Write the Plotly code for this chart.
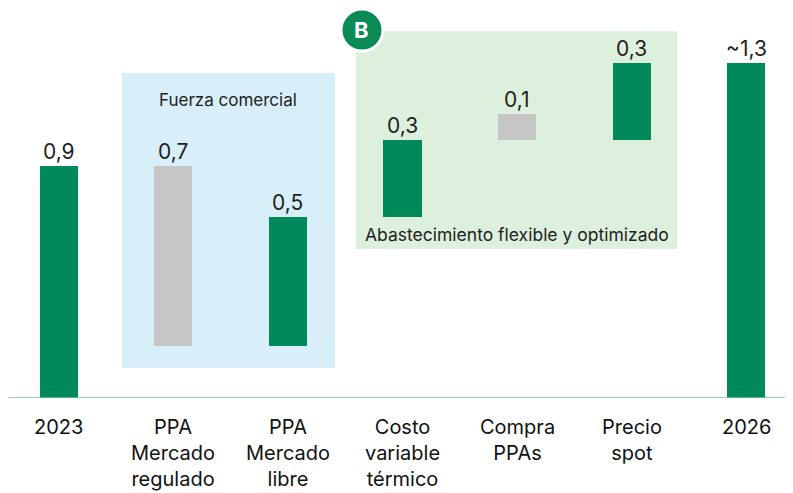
import plotly.graph_objects as go

categories = ["2023", "PPA<br>Mercado<br>regulado", "PPA<br>Mercado<br>libre",
              "Costo<br>variable<br>térmico", "Compra<br>PPAs", "Precio<br>spot", "2026"]
values = [0.9, 0.7, 0.5, 0.3, 0.1, 0.3, 1.3]
bases = [0.0, 0.2, 0.2, 0.7, 1.0, 1.0, 0.0]
value_labels = ["0,9", "0,7", "0,5", "0,3", "0,1", "0,3", "~1,3"]
bar_colors = ["#00895A", "#C6C6C6", "#00895A", "#00895A", "#C6C6C6", "#00895A", "#00895A"]
group_labels = ["Fuerza comercial", "Abastecimiento flexible y optimizado"]

FONT = "Inter"
idx = list(range(len(categories)))

fig = go.Figure()
fig.add_trace(go.Bar(
    x=idx, y=values, base=bases, width=0.332,
    marker=dict(color=bar_colors, line=dict(width=0)),
    hoverinfo="skip", showlegend=False,
))

annotations = []
for i, (v, b, lab) in enumerate(zip(values, bases, value_labels)):
    annotations.append(dict(x=i, y=b + v, xref="x", yref="y", text=lab, showarrow=False,
                            yanchor="bottom", yshift=0,
                            font=dict(family=FONT, size=21, color="#222222")))
for i, cat in enumerate(categories):
    annotations.append(dict(x=i, y=0, xref="x", yref="y", text=cat, showarrow=False,
                            yanchor="top", yshift=-15, align="center",
                            font=dict(family=FONT, size=20, color="#111111")))

# group boxes
shapes = [
    dict(type="rect", xref="x", yref="y", x0=0.55, x1=2.41, y0=0.116, y1=1.26,
         fillcolor="#D8EFF9", line=dict(width=0), layer="below"),
    dict(type="rect", xref="x", yref="y", x0=2.594, x1=5.397, y0=0.578, y1=1.422,
         fillcolor="#DDF0DE", line=dict(width=0), layer="below"),
    dict(type="line", xref="paper", yref="y", x0=0, x1=1, y0=0, y1=0,
         line=dict(color="#6CC3A0", width=1.5)),
    dict(type="circle", xref="x", yref="y", xsizemode="pixel", ysizemode="pixel",
         xanchor=2.646, yanchor=1.426, x0=-21, x1=21, y0=-21, y1=21,
         fillcolor="#0A8A55", line=dict(color="white", width=3), layer="above"),
]
annotations.append(dict(x=(0.55 + 2.41) / 2, y=1.155, xref="x", yref="y", text=group_labels[0],
                        showarrow=False, font=dict(family=FONT, size=17, color="#222222")))
annotations.append(dict(x=(2.594 + 5.397) / 2, y=0.632, xref="x", yref="y", text=group_labels[1],
                        showarrow=False, font=dict(family=FONT, size=17.5, color="#222222")))
annotations.append(dict(x=2.646, y=1.426, xref="x", yref="y", text="<b>B</b>", showarrow=False,
                        font=dict(family=FONT, size=22, color="white")))

fig.update_layout(
    width=785, height=485,
    margin=dict(l=0, r=0, t=2, b=95),
    plot_bgcolor="white", paper_bgcolor="white",
    xaxis=dict(range=[-0.445, 6.41], showticklabels=False, showgrid=False,
               zeroline=False, showline=False, ticks=""),
    yaxis=dict(range=[0, 1.504], showticklabels=False, showgrid=False,
               zeroline=False, showline=False, ticks=""),
    shapes=shapes, annotations=annotations, bargap=0,
)

fig.write_html("out.html")
